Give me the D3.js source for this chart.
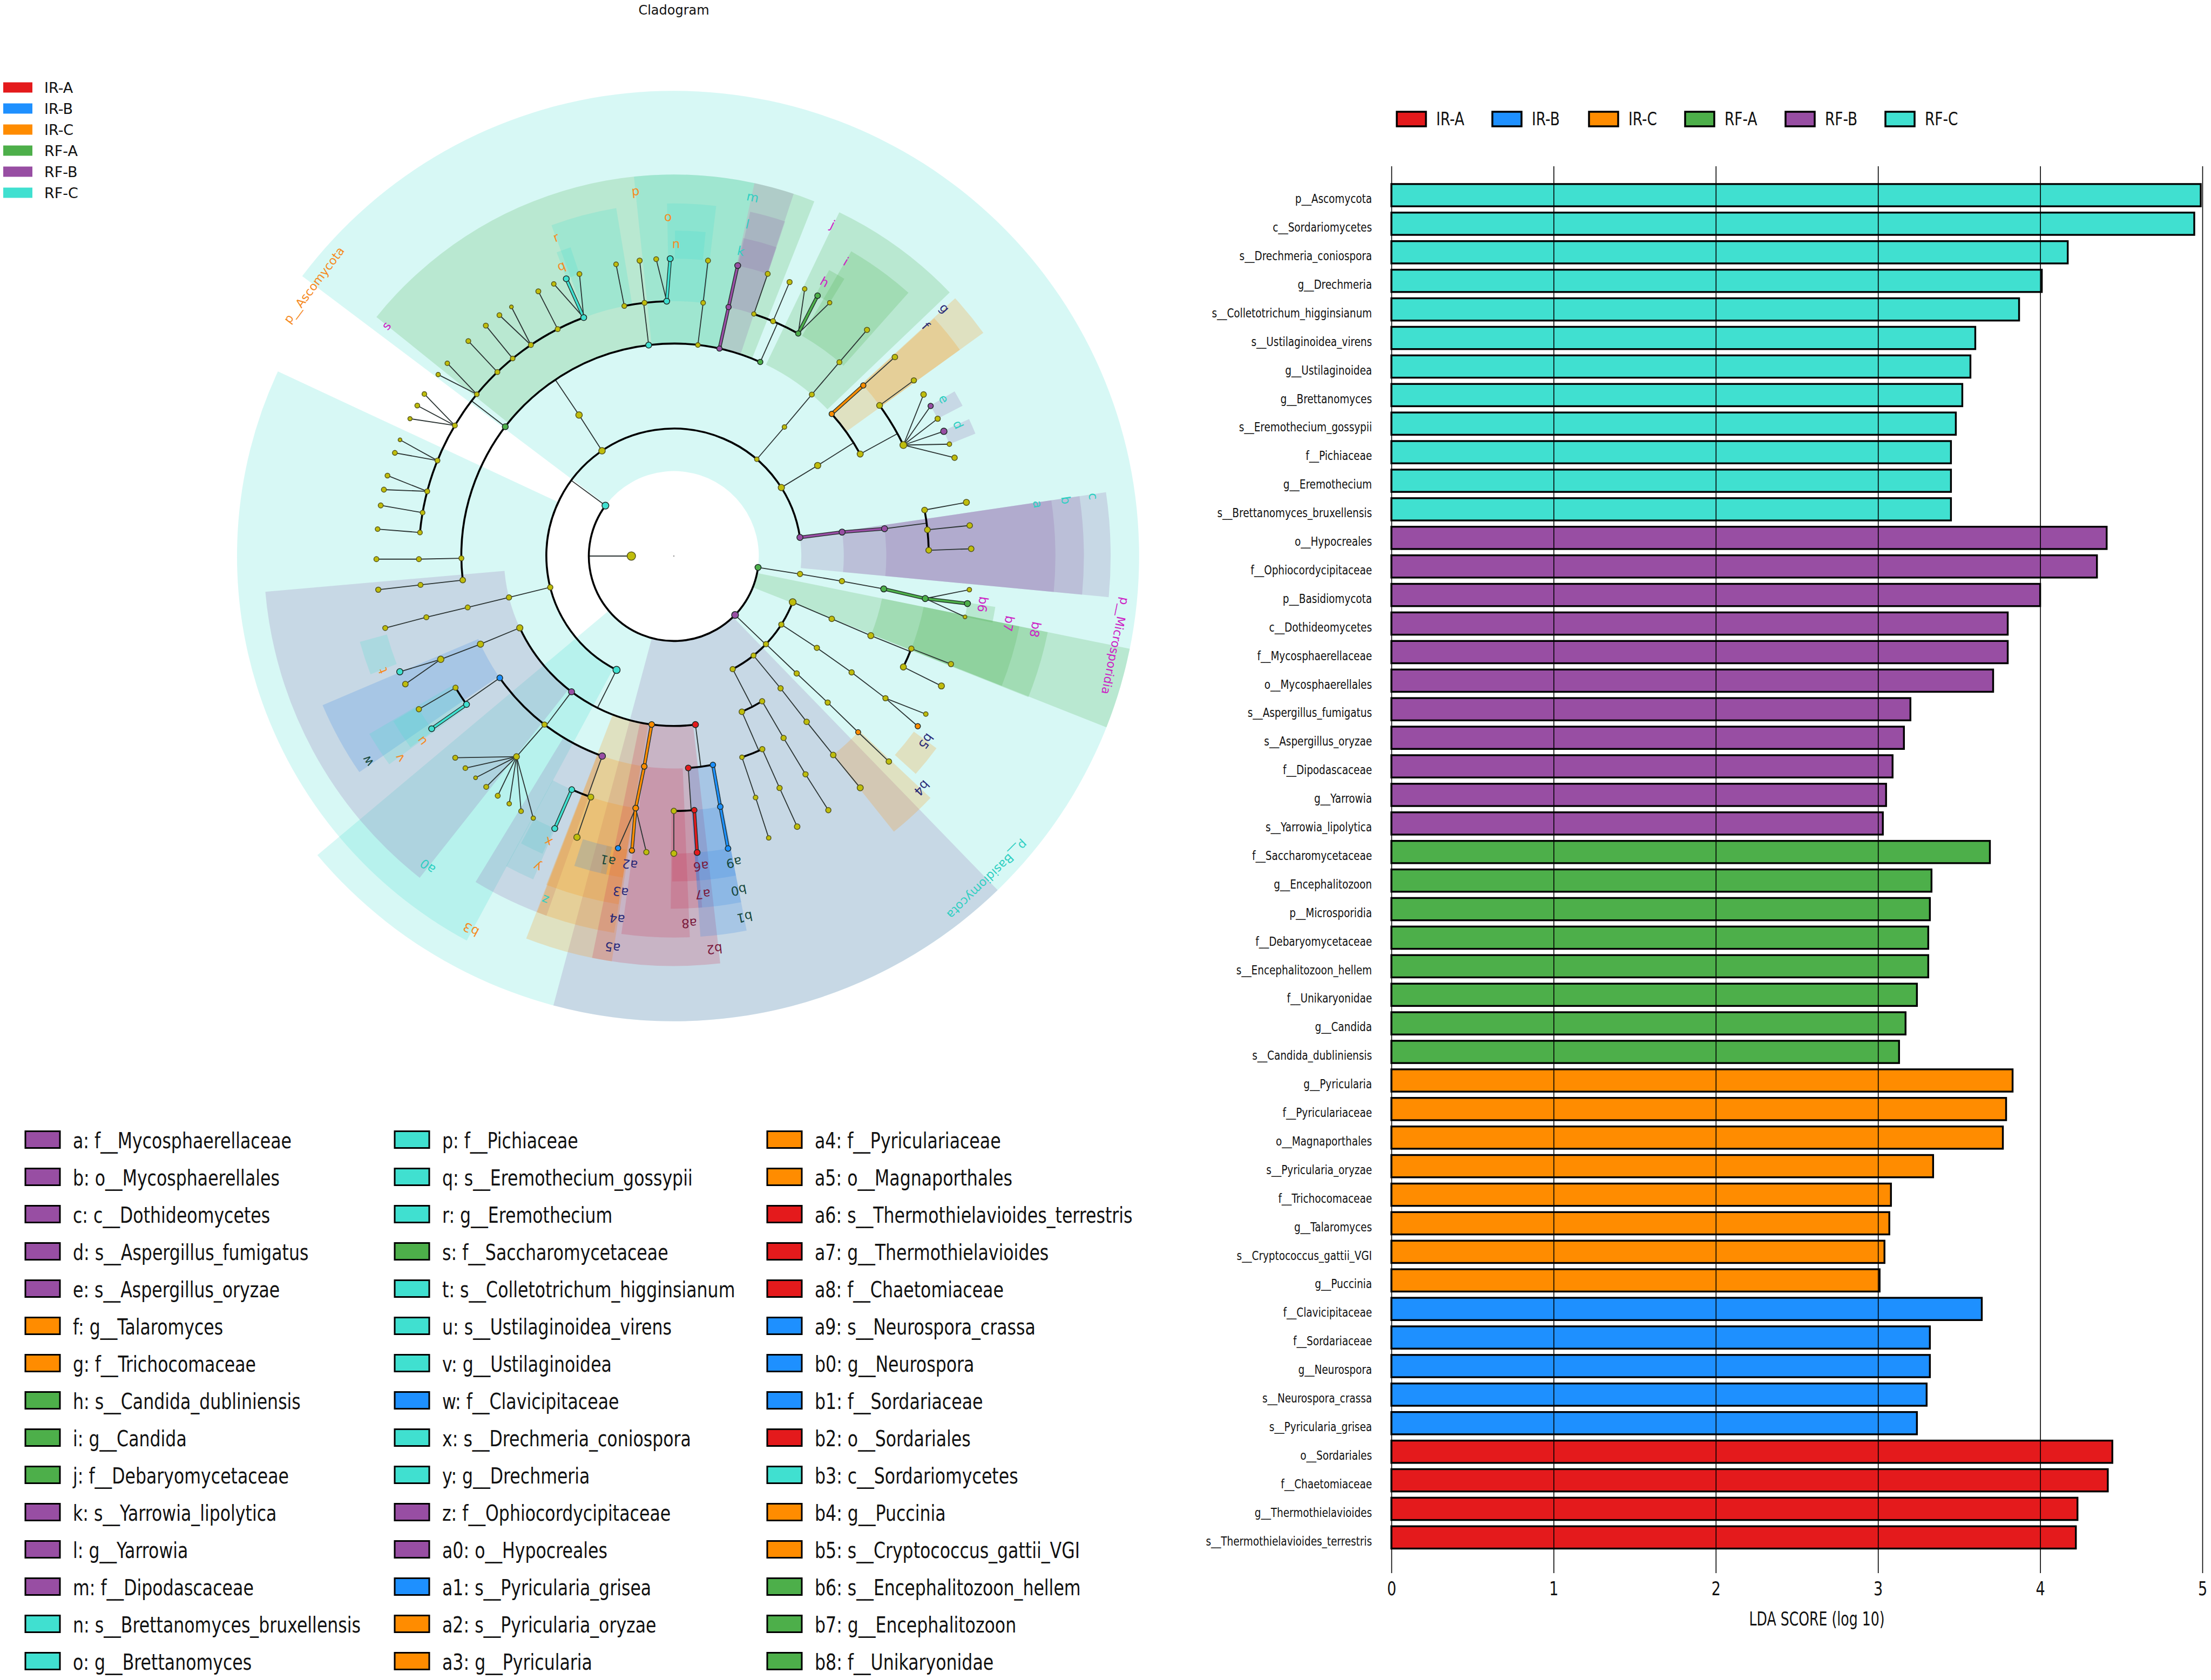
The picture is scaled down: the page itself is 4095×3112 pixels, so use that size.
<!DOCTYPE html>
<html><head><meta charset="utf-8">
<script src="https://cdn.jsdelivr.net/npm/d3@7/dist/d3.min.js"></script>
<style>html,body{margin:0;padding:0;background:#fff}svg{display:block}text{font-family:"DejaVu Sans",sans-serif}</style>
</head><body><div id="chart"></div>
<script>
// ---------- classes ----------
const groupNames = ["IR-A","IR-B","IR-C","RF-A","RF-B","RF-C"];
const groupKeys  = ["R","B","O","G","P","C"];
const groupColors= ["#e41a1c","#1e90ff","#ff8c00","#4daf4a","#984ea3","#40e0d0"];
const sectorColors=["#cd2d50","#2e86e6","#ff8c00","#4daf4a","#8c64aa","#40e0d0"];

// ---------- LDA bars ----------
const barLabels = ["p__Ascomycota","c__Sordariomycetes","s__Drechmeria_coniospora","g__Drechmeria","s__Colletotrichum_higginsianum","s__Ustilaginoidea_virens","g__Ustilaginoidea","g__Brettanomyces","s__Eremothecium_gossypii","f__Pichiaceae","g__Eremothecium","s__Brettanomyces_bruxellensis",
"o__Hypocreales","f__Ophiocordycipitaceae","p__Basidiomycota","c__Dothideomycetes","f__Mycosphaerellaceae","o__Mycosphaerellales","s__Aspergillus_fumigatus","s__Aspergillus_oryzae","f__Dipodascaceae","g__Yarrowia","s__Yarrowia_lipolytica",
"f__Saccharomycetaceae","g__Encephalitozoon","p__Microsporidia","f__Debaryomycetaceae","s__Encephalitozoon_hellem","f__Unikaryonidae","g__Candida","s__Candida_dubliniensis",
"g__Pyricularia","f__Pyriculariaceae","o__Magnaporthales","s__Pyricularia_oryzae","f__Trichocomaceae","g__Talaromyces","s__Cryptococcus_gattii_VGI","g__Puccinia",
"f__Clavicipitaceae","f__Sordariaceae","g__Neurospora","s__Neurospora_crassa","s__Pyricularia_grisea",
"o__Sordariales","f__Chaetomiaceae","g__Thermothielavioides","s__Thermothielavioides_terrestris"];
const barValues = [4.99,4.95,4.17,4.01,3.87,3.60,3.57,3.52,3.48,3.45,3.45,3.45,
4.41,4.35,4.00,3.80,3.80,3.71,3.20,3.16,3.09,3.05,3.03,
3.69,3.33,3.32,3.31,3.31,3.24,3.17,3.13,
3.83,3.79,3.77,3.34,3.08,3.07,3.04,3.01,
3.64,3.32,3.32,3.30,3.24,
4.445,4.417,4.23,4.22];
const barGroups = "CCCCCCCCCCCC"+"PPPPPPPPPPP"+"GGGGGGGG"+"OOOOOOOO"+"BBBBB"+"RRRR";
const xTicks = [0,1,2,3,4,5];

// ---------- letter legend ----------
const keyLetters = ["a","b","c","d","e","f","g","h","i","j","k","l","m","n","o","p","q","r","s","t","u","v","w","x","y","z","a0","a1","a2","a3","a4","a5","a6","a7","a8","a9","b0","b1","b2","b3","b4","b5","b6","b7","b8"];
const keyNames = ["f__Mycosphaerellaceae","o__Mycosphaerellales","c__Dothideomycetes","s__Aspergillus_fumigatus","s__Aspergillus_oryzae","g__Talaromyces","f__Trichocomaceae","s__Candida_dubliniensis","g__Candida","f__Debaryomycetaceae","s__Yarrowia_lipolytica","g__Yarrowia","f__Dipodascaceae","s__Brettanomyces_bruxellensis","g__Brettanomyces",
"f__Pichiaceae","s__Eremothecium_gossypii","g__Eremothecium","f__Saccharomycetaceae","s__Colletotrichum_higginsianum","s__Ustilaginoidea_virens","g__Ustilaginoidea","f__Clavicipitaceae","s__Drechmeria_coniospora","g__Drechmeria","f__Ophiocordycipitaceae","o__Hypocreales","s__Pyricularia_grisea","s__Pyricularia_oryzae","g__Pyricularia",
"f__Pyriculariaceae","o__Magnaporthales","s__Thermothielavioides_terrestris","g__Thermothielavioides","f__Chaetomiaceae","s__Neurospora_crassa","g__Neurospora","f__Sordariaceae","o__Sordariales","c__Sordariomycetes","g__Puccinia","s__Cryptococcus_gattii_VGI","s__Encephalitozoon_hellem","g__Encephalitozoon","f__Unikaryonidae"];
const keyGroups = ["P","P","P","P","P","O","O","G","G","G","P","P","P","C","C","C","C","C","G","C","C","C","B","C","C","P","P","B","O","O","O","O","R","R","R","B","B","B","R","C","O","O","G","G","G"];

// ---------- cladogram: clade sectors [rank, start deg, end deg, class] ----------
const sectors = [
["p",307,590,"C"],["c",208.3,295,"C"],["p",135.9,195,"P"],["p",101.5,111.6,"G"],
["c",81.6,95.4,"P"],["o",81.6,95.4,"P"],["f",81.6,95.4,"P"],
["o",218.3,265,"P"],["f",308.8,381.6,"G"],["f",354,372.2,"C"],["g",339.7,350.6,"C"],["s",338.9,341.5,"C"],
["g",358.9,366.9,"C"],["s",360.2,365.6,"C"],["f",12.2,18.3,"P"],["g",12.5,18.4,"P"],["s",12.3,18.4,"P"],
["f",25.7,46.3,"G"],["g",30.2,41.7,"G"],["s",28.5,31.6,"G"],["f",47.5,54.2,"O"],["g",47.6,54.2,"O"],
["s",59.6,62.5,"P"],["s",65.1,67.9,"P"],["s",248.7,254.7,"C"],["f",235.5,247,"B"],["g",233.8,239.7,"C"],["s",234,239.5,"C"],
["s",203.8,208,"C"],["g",203.5,208.4,"C"],["f",199.5,211.3,"P"],["o",188.7,201.1,"O"],["f",189,201,"O"],["g",189,201.2,"O"],
["s",189,193,"O"],["s",192,197.8,"B"],["f",177.6,187.9,"R"],["g",175.4,180.5,"R"],["s",175.5,180.3,"R"],["o",173.5,191.5,"R"],
["f",169,176,"B"],["g",169,176,"B"],["s",169,176,"B"],["g",133.3,141.4,"O"],["s",126.2,132,"O"],["s",99,101.8,"G"],["g",101.5,111.6,"G"],["f",101.5,111.7,"G"]];
const rankNames = ["p","c","o","f","g","s"];
const rankInner = [2,3,4,5,6,7];
const rankOuter = [10.95,10.28,9.65,8.98,8.3,7.66];

// ---------- cladogram tree: [id, parent, level, angle deg, class, abundance] ----------
const tree = [
["root",null,1,270,"Y",4],
["A","root",2,306.4,"C",3],["M","root",2,97.7,"G",2.5],["Ba","root",2,133.9,"P",3],
// Microsporidia
["M3","M",3,98.1,"Y",2],["M4","M3",4,98.5,"Y",2],["M5","M4",5,98.9,"G",2.5],["M6","M5",6,99.6,"G",2.5],
["M7a","M6",7,96.5,"Y",1.5],["M7b","M6",7,99.2,"G",2.5],["M7c","M6",7,101.8,"Y",1],
// Basidiomycota
["B1","Ba",3,111.2,"Y",3],["B2","Ba",3,122.5,"Y",2],["B3","Ba",3,133.7,"Y",2],["B4","Ba",3,141.3,"Y",1.8],["B5","Ba",3,152.5,"Y",2],
["B1a","B1",4,111.7,"Y",2.2],["B1b","B1a",5,112,"Y",2.5],["B1c","B1b",6,111.3,"Y",2],["B1d","B1b",6,115.8,"Y",2.5],["B1e","B1c",7,111.3,"Y",2],["B1f","B1d",7,115.9,"Y",2.5],
["B2a","B2",4,122.7,"Y",2],["B2b","B2a",5,123.2,"Y",2],["B2c","B2b",6,123.9,"Y",2],["B2d","B2c",7,122.1,"Y",1.5],["B2e","B2c",7,124.9,"O",2],
["B3a","B3",4,133.7,"Y",2],["B3b","B3a",5,133.6,"Y",2],["B3c","B3b",6,133.7,"O",1.8],["B3d","B3c",7,133.7,"Y",2.2],
["B4a","B4",4,141.1,"Y",2],["B4b","B4a",5,141.3,"Y",2.2],["B4c","B4b",6,141.3,"Y",2.2],["B4d","B4c",7,141.2,"Y",2.5],
["B5a","B5",4,156.4,"Y",2.2],["B5b","B5",4,148.7,"Y",2],["B5c","B5b",5,148.9,"Y",2],["B5d","B5c",6,148.9,"Y",2],["B5e","B5d",7,148.7,"Y",2],
["B5f","B5a",5,161.3,"Y",1.5],["B5g","B5a",5,155.4,"Y",2],["B5h","B5g",6,155.5,"Y",2],["B5i","B5h",7,155.5,"Y",2.2],["B5j","B5f",6,161.3,"Y",1.6],["B5k","B5j",7,161.4,"Y",1.5],
// Ascomycota classes
["C1","A",3,206.7,"C",3.2],["C2","A",3,255.8,"Y",2],["C3","A",3,325.7,"Y",2.8],["C4","A",3,40.6,"Y",1.5],["C5","A",3,57.5,"Y",2.6],["C6","A",3,81.6,"P",2.5],
// Dothideomycetes
["D4","C6",4,81.9,"P",2.5],["D5","D4",5,82.6,"P",2.5],["D6a","D5",6,79.6,"Y",2.3],["D6b","D5",6,84.1,"Y",2.3],["D6c","D5",6,88.7,"Y",2.3],
["D7a","D6a",7,79.6,"Y",2.5],["D7b","D6b",7,84.1,"Y",2.2],["D7c","D6c",7,88.6,"Y",2.2],
// Eurotiomycetes branch
["E4","C5",4,57.8,"Y",2.6],["E5a","E4",5,48,"O",2],["E5b","E4",5,61.3,"Y",2.5],["E6a","E5a",6,48,"O",2],["E7a","E6a",7,48,"Y",2.2],
["E6b","E5b",6,53.8,"Y",2.4],["E6c","E5b",6,64.2,"Y",3],["E7b","E6b",7,53.8,"Y",2],
["E7c","E6c",7,57.1,"Y",2.2],["E7d","E6c",7,59.7,"P",2],["E7e","E6c",7,62.5,"Y",2],["E7f","E6c",7,65.2,"P",2.7],["E7g","E6c",7,67.9,"Y",1.5],["E7h","E6c",7,70.7,"Y",2.1],
["F4","C4",4,40.6,"Y",1.5],["F5","F4",5,40.5,"Y",1.8],["F6","F5",6,40.5,"Y",1.8],["F7","F6",7,40.5,"Y",2],
["L1","C2",4,255.9,"Y",2],["L2","L1",5,256,"Y",1.8],["L3","L2",6,256.1,"Y",1.8],["L4","L3",7,256,"Y",1.8],
// Saccharomycetes
["S4","C3",4,326.1,"Y",2.8],["S5a","S4",5,263.5,"Y",2.2],["S5b","S4",5,269.4,"Y",1.8],["S5c","S4",5,307.5,"G",2.4],["S5d","S4",5,353.2,"C",2.4],["S5e","S4",5,6.5,"Y",1.6],["S5f","S4",5,12.4,"P",2],["S5g","S4",5,24,"G",2],
["a6","S5a",6,263.5,"Y",1.8],["a7","a6",7,263.5,"Y",2],["b6","S5b",6,269.3,"Y",1.8],["b7","b6",7,269.4,"Y",1.8],
["c6a","S5c",6,275.3,"Y",1.6],["c6b","S5c",6,279.8,"Y",1.6],["c6c","S5c",6,284.7,"Y",1.8],["c6d","S5c",6,292,"Y",1.8],["c6e","S5c",6,300.8,"Y",1.8],["c6f","S5c",6,309.4,"Y",1.6],["c6g","S5c",6,316.2,"Y",1.8],["c6h","S5c",6,320.8,"Y",1.6],["c6i","S5c",6,325.9,"Y",1.8],["c6j","S5c",6,332.9,"Y",1.8],["c6k","S5c",6,339.3,"C",2.4],
["c7a","c6a",7,275.2,"Y",1.6],["c7b","c6b",7,279.8,"Y",1.8],["c7c","c6c",7,282.9,"Y",1.8],["c7d","c6c",7,285.7,"Y",1.7],["c7e","c6d",7,290.3,"Y",1.7],["c7f","c6d",7,293,"Y",1],
["c7g","c6e",7,297.5,"Y",1.3],["c7h","c6e",7,300.4,"Y",1.7],["c7i","c6e",7,303,"Y",1.6],["c7j","c6f",7,307.6,"Y",1.4],["c7k","c6f",7,310.4,"Y",1.5],["c7l","c6g",7,316.3,"Y",1.7],["c7m","c6h",7,320.8,"Y",1.8],["c7n","c6i",7,324.1,"Y",1.7],["c7o","c6i",7,326.9,"Y",1],["c7p","c6j",7,332.9,"Y",1.8],
["c7q","c6k",7,336.2,"Y",1.5],["c7r","c6k",7,338.8,"C",2.4],["c7s","c6k",7,341.5,"Y",1.7],
["d6a","S5d",6,348.8,"Y",1.7],["d6b","S5d",6,353.4,"Y",1.8],["d6c","S5d",6,358.4,"C",2.4],["d7a","d6a",7,348.8,"Y",1.6],["d7b","d6b",7,353.4,"Y",1.9],["d7c","d6c",7,356.6,"Y",1.7],["d7d","d6c",7,359.3,"C",2.4],
["e6","S5e",6,6.6,"Y",1.6],["e7","e6",7,6.6,"Y",1.8],
["f6","S5f",6,12.4,"P",2],["f7","f6",7,12.4,"P",2.4],
["g6a","S5g",6,18.3,"Y",1.4],["g6b","S5g",6,22.9,"Y",1.8],["g6c","S5g",6,29.2,"G",2],["g7a","g6a",7,18.4,"Y",1.8],["g7b","g6b",7,22.9,"Y",1.9],["g7c","g6c",7,26.1,"Y",1.5],["g7d","g6c",7,28.9,"G",2.2],["g7e","g6c",7,31.6,"Y",1.4],
// Sordariomycetes
["H4a","C1",4,245,"Y",2.6],["H4b","C1",4,217,"P",2.5],["H4c","C1",4,187.5,"O",2.3],["H4d","C1",4,172.7,"R",2.5],
["H5a","H4a",5,245.5,"Y",2.6],["H6a","H5a",6,246.1,"Y",2.7],["H7a","H6a",7,247.1,"C",2.6],["H7b","H6a",7,244.5,"Y",2.2],
["I5a","H4b",5,235,"B",2.3],["I5b","H4b",5,217.5,"Y",2],["I5c","H4b",5,199.7,"P",2.8],
["I6a","I5a",6,238.9,"Y",1.9],["I6b","I5a",6,234.4,"C",2.4],["I7a","I6a",7,239,"Y",2],["I7b","I6b",7,234.5,"C",2.4],
["J6","I5b",6,218.1,"Y",2.4],["J7a","J6",7,227.3,"Y",1.8],["J7b","J6",7,224.5,"Y",1.6],["J7c","J6",7,221.8,"Y",1],["J7d","J6",7,219.1,"Y",1.8],["J7e","J6",7,216.3,"Y",1.8],["J7f","J6",7,213.6,"Y",1.5],["J7g","J6",7,210.9,"Y",1.6],["J7h","J6",7,208.2,"Y",1.4],
["K6a","I5c",6,199,"Y",2.4],["K6b","I5c",6,203.6,"C",2.3],["K7a","K6a",7,199,"Y",2.7],["K7b","K6b",7,203.6,"C",2.4],
["N5","H4c",5,188,"O",2.2],["N6","N5",6,188.6,"O",2.3],["N7a","N6",7,190.8,"B",2],["N7b","N6",7,188.1,"O",2],["N7c","N6",7,185.3,"Y",2],
["O5a","H4d",5,176.1,"R",2.3],["O5b","H4d",5,169.4,"B",2.1],["P6a","O5a",6,180,"Y",2.1],["P6b","O5a",6,175.4,"R",2.1],["P7a","P6a",7,180,"Y",2.4],["P7b","P6b",7,175.5,"R",2.4],
["Q6","O5b",6,169.5,"B",2.2],["Q7","Q6",7,169.5,"B",2.2]];

// ---------- cladogram labels: [text, angle deg, radius in levels, colour name] ----------
const cladeLabels = [
["a",81.9,8.65,"teal"],["b",81.9,9.32,"teal"],["c",81.9,9.97,"teal"],["d",65.2,7.37,"teal"],["e",59.8,7.35,"teal"],["f",47.6,8.03,"navy"],["g",47.5,8.64,"navy"],
["h",28.8,7.36,"magenta"],["i",30.3,8.03,"magenta"],["j",25.6,8.65,"magenta"],["k",12.4,7.35,"teal"],["l",12.5,8,"teal"],["m",12.4,8.65,"teal"],
["n",0.4,7.35,"orange"],["o",359,7.99,"orange"],["p",354,8.64,"orange"],["q",338.8,7.33,"orange"],["r",339.7,8,"orange"],["s",308.7,8.67,"magenta"],
["t",248.5,7.36,"orange"],["u",233.7,7.36,"orange"],["v",233.6,8.01,"orange"],["w",236.2,8.67,"forest"],["x",203.7,7.35,"orange"],["y",203.7,7.99,"orange"],["z",200.5,8.64,"teal"],
["a0",218.4,9.32,"teal"],["a1",192.2,7.33,"forest"],["a2",188.1,7.33,"navy"],["a3",189,8,"navy"],["a4",188.9,8.64,"navy"],["a5",188.9,9.32,"navy"],
["a6",175,7.33,"maroon"],["a7",175.1,7.99,"maroon"],["a8",177.6,8.65,"maroon"],["a9",168.9,7.35,"forest"],["b0",169,8.01,"forest"],["b1",168.9,8.66,"forest"],["b2",174.1,9.3,"maroon"],
["b3",208.5,10,"orange"],["b4",133.1,7.99,"navy"],["b5",126.3,7.36,"navy"],["b6",98.9,7.36,"magenta"],["b7",101.4,8.04,"magenta"],["b8",101.5,8.68,"magenta"]];
const phylumLabels = [["p__Ascomycota",307,10.6,"orange"],["p__Microsporidia",101.5,10.6,"magenta"],["p__Basidiomycota",135.9,10.6,"teal"]];
const labelInk = {teal:"#2fcfc2",navy:"#2a2a78",magenta:"#cc22c4",orange:"#f58a1f",forest:"#17483c",maroon:"#7a1a3c"};

// ---------- drawing ----------
const W=4095,H=3112;
const svg=d3.select("#chart").append("svg").attr("width",W).attr("height",H).attr("viewBox",`0 0 ${W} ${H}`);
svg.append("rect").attr("width",W).attr("height",H).attr("fill","#fff");
const colour=d3.scaleOrdinal(groupKeys,groupColors).unknown("#bfbd0c");
const sectorColour=d3.scaleOrdinal(groupKeys,sectorColors);
const rad=d=>d*Math.PI/180;

// Cladogram
const clade=svg.append("g").attr("transform","translate(1248,1030)");
const r=d3.scaleLinear().domain([0,1]).range([0,78.7]);
const inner=d3.scaleOrdinal(rankNames,rankInner), outer=d3.scaleOrdinal(rankNames,rankOuter);
const arcGen=d3.arc();
clade.selectAll("path.sector").data(sectors).join("path").attr("class","sector")
  .attr("d",d=>arcGen({innerRadius:r(inner(d[0])),outerRadius:r(outer(d[0])),startAngle:rad(d[1]),endAngle:rad(d[2])}))
  .attr("fill",d=>sectorColour(d[3])).attr("fill-opacity",0.21);

const nodes=tree.map(d=>({id:d[0],parent:d[1],level:d[2],angle:d[3],group:d[4],size:d[5]}));
const byId=new Map(nodes.map(d=>[d.id,d]));
const pos=(a,l)=>d3.pointRadial(rad(a),r(l));
const sizeScale=d3.scaleLinear().domain([1,4]).range([3.5,7.8]);
const edges=clade.append("g").attr("fill","none");
const fam=d3.group(nodes.filter(d=>d.parent),d=>d.parent);
const seg=(p,q)=>`M${p[0]},${p[1]}L${q[0]},${q[1]}`;
fam.forEach((kids,pid)=>{
  const P=byId.get(pid);
  const L=kids[0].level;
  const pp=pos(P.angle,P.level);
  if(kids.length===1||L===7){
    kids.forEach(k=>{
      const q=pos(k.angle,k.level);
      if(k.group===P.group&&k.group!=="Y"){
        edges.append("path").attr("d",seg(pp,q)).attr("stroke","#1c2a26").attr("stroke-width",6.4);
        edges.append("path").attr("d",seg(pp,q)).attr("stroke",colour(k.group)).attr("stroke-width",3.8);
      } else edges.append("path").attr("d",seg(pp,q)).attr("stroke","#2b3433").attr("stroke-width",1.8);
    });
  } else {
    edges.append("path").attr("d",seg(pp,pos(P.angle,L))).attr("stroke","#2b3433").attr("stroke-width",1.8);
    const ds=kids.map(k=>((k.angle-P.angle+540)%360)-180);
    const a0=P.angle+Math.min(0,d3.min(ds)),a1=P.angle+Math.max(0,d3.max(ds));
    edges.append("path").attr("d",arcGen({innerRadius:r(L),outerRadius:r(L),startAngle:rad(a0),endAngle:rad(a1)}))
      .attr("stroke","#000").attr("stroke-width",3.6);
  }
});
clade.append("circle").attr("r",1.3).attr("fill","#999");
clade.selectAll("circle.node").data(nodes).join("circle").attr("class","node")
  .attr("transform",d=>`translate(${pos(d.angle,d.level)})`)
  .attr("r",d=>sizeScale(d.size)).attr("fill",d=>colour(d.group))
  .attr("stroke",d=>d.group==="Y"?"#55551c":"#1c2a26").attr("stroke-width",1.5);
const place=(d)=>{const p=pos(d[1],d[2]);return `translate(${p[0]},${p[1]}) rotate(${d[1]})`;};
clade.selectAll("text.lab").data(cladeLabels).join("text").attr("class","lab")
  .attr("transform",place).attr("text-anchor","middle").attr("dominant-baseline","central")
  .attr("font-size",23).attr("fill",d=>labelInk[d[3]]).text(d=>d[0]);
clade.selectAll("text.phy").data(phylumLabels).join("text").attr("class","phy")
  .attr("transform",place).attr("text-anchor","middle").attr("dominant-baseline","central")
  .attr("font-size",22).attr("fill",d=>labelInk[d[3]]).text(d=>d[0]);

// Title + top-left legend
svg.append("text").attr("x",1248).attr("y",19).attr("text-anchor","middle").attr("dominant-baseline","central").attr("font-size",24).attr("fill","#111").text("Cladogram");
const legA=svg.append("g");
const legAy=d3.scalePoint(groupNames,[162,357]);
legA.selectAll("rect").data(groupNames).join("rect").attr("x",6).attr("width",54).attr("y",d=>legAy(d)-9.5).attr("height",19).attr("fill",d=>groupColors[groupNames.indexOf(d)]);
legA.selectAll("text").data(groupNames).join("text").attr("x",82).attr("y",d=>legAy(d)).attr("dominant-baseline","central").attr("font-size",27).attr("fill","#111").text(d=>d);

// Letter legend
const legB=svg.append("g");
const rowY=d3.scalePoint(d3.range(15),[2111,3077]);
const keyRows=keyLetters.map((l,i)=>({l,name:keyNames[i],g:keyGroups[i],col:Math.floor(i/15),row:i%15}));
const colXpx=d=>d.col===0?47:d.col===1?731:1421;
legB.selectAll("rect").data(keyRows).join("rect").attr("x",colXpx).attr("y",d=>rowY(d.row)-15.5).attr("width",64).attr("height",31)
  .attr("fill",d=>colour(d.g)).attr("stroke","#000").attr("stroke-width",3);
legB.selectAll("text").data(keyRows).join("text").attr("transform",d=>`translate(${colXpx(d)+88},${rowY(d.row)+2}) scale(.79,1)`)
  .attr("dominant-baseline","central").attr("font-size",40).attr("fill","#111").text(d=>`${d.l}: ${d.name}`);

// LDA bar chart
const x=d3.scaleLinear().domain([0,5]).range([2577,4079]);
const y=d3.scaleBand().domain(barLabels).range([340.9,2868.5]).paddingInner(0.22);
const bars=svg.append("g");
bars.selectAll("rect").data(barLabels).join("rect")
  .attr("x",x(0)).attr("y",d=>y(d)).attr("height",y.bandwidth())
  .attr("width",(d,i)=>x(barValues[i])-x(0))
  .attr("fill",(d,i)=>colour(barGroups[i])).attr("stroke","#000").attr("stroke-width",3.4);
const xAxis=svg.append("g").attr("transform","translate(0,2914)").call(d3.axisBottom(x).tickValues(xTicks).tickFormat(d3.format("d")).tickSize(-2606));
xAxis.select(".domain").remove();
xAxis.selectAll("line").attr("stroke","#000").attr("stroke-width",1.6);
xAxis.selectAll("text").attr("y",0).attr("dy",0).attr("transform","translate(0,29) scale(.75,1)").attr("dominant-baseline","central").attr("font-size",36).attr("font-family",'"DejaVu Sans",sans-serif').attr("fill","#111");
const yAxis=svg.append("g").attr("transform",`translate(${x(0)},0)`).call(d3.axisLeft(y).tickSize(0));
yAxis.select(".domain").remove();
yAxis.selectAll("text").attr("x",0).attr("dy",0).attr("transform","translate(-36,7) scale(.8,1)").attr("dominant-baseline","central").attr("font-size",23).attr("font-family",'"DejaVu Sans",sans-serif').attr("fill","#111");
svg.append("text").attr("transform","translate(3365,2998) scale(.7,1)").attr("text-anchor","middle").attr("dominant-baseline","central").attr("font-size",36).attr("fill","#111").text("LDA SCORE (log 10)");

// Top legend of bar chart
const legC=svg.append("g");
const legCx=[2587,2764,2943,3121,3307,3492];
legC.selectAll("rect").data(groupNames).join("rect").attr("x",(d,i)=>legCx[i]).attr("y",207).attr("width",54).attr("height",27)
  .attr("fill",(d,i)=>groupColors[i]).attr("stroke","#000").attr("stroke-width",3.5);
legC.selectAll("text").data(groupNames).join("text").attr("transform",(d,i)=>`translate(${legCx[i]+73},220) scale(.8,1)`)
  .attr("dominant-baseline","central").attr("font-size",33).attr("fill","#111").text(d=>d);
</script></body></html>
